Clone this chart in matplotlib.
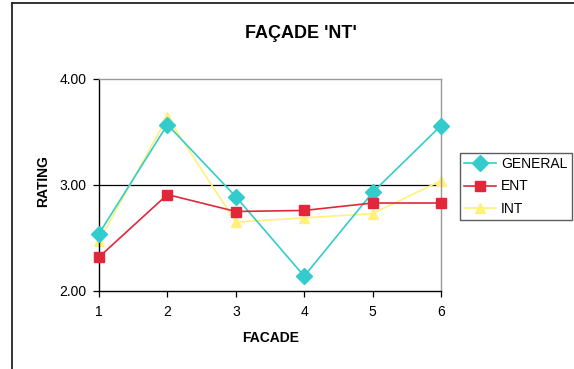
import matplotlib
matplotlib.use("Agg")
import matplotlib.pyplot as plt
from matplotlib.lines import Line2D

plt.rcParams['font.family'] = ['Liberation Sans', 'DejaVu Sans']

facades = [1, 2, 3, 4, 5, 6]
general = [2.54, 3.57, 2.89, 2.14, 2.93, 3.56]
ent = [2.32, 2.91, 2.75, 2.76, 2.83, 2.83]
int_vals = [2.47, 3.64, 2.65, 2.69, 2.73, 3.04]
y_ticks = [2.0, 3.0, 4.0]

W, H = 574, 369
fig = plt.figure(figsize=(W / 100, H / 100), dpi=100)
fig.patch.set_facecolor('white')

# outer chart frame (top and left edges)
fig.add_artist(Line2D([12 / W, 1.0], [1 - 3 / H, 1 - 3 / H],
                      transform=fig.transFigure, color='#222222', lw=1.3))
fig.add_artist(Line2D([12 / W, 12 / W], [0.0, 1 - 3 / H],
                      transform=fig.transFigure, color='#222222', lw=1.3))

ax = fig.add_axes([99 / W, 1 - 291 / H, (441 - 99) / W, (291 - 79) / H])

ax.plot(facades, general, color='#33CCCC', lw=1.2, marker='D', ms=8.5,
        label='GENERAL', zorder=3, clip_on=False)
ax.plot(facades, ent, color='#E0283A', lw=1.2, marker='s', ms=6.5,
        label='ENT', zorder=4, clip_on=False)
ax.plot(facades, int_vals, color='#FFF17A', lw=1.2, marker='^', ms=7.5,
        label='INT', zorder=2, clip_on=False)

ax.set_xlim(1, 6)
ax.set_ylim(2, 4)
ax.set_xticks(facades)
ax.set_yticks(y_ticks)
ax.set_yticklabels([f'{v:.2f}' for v in y_ticks])
ax.axhline(3.0, color='black', lw=0.9, zorder=1)

for side in ('top', 'right'):
    ax.spines[side].set_color('#999999')
    ax.spines[side].set_linewidth(1.0)
for side in ('left', 'bottom'):
    ax.spines[side].set_color('black')
    ax.spines[side].set_linewidth(1.0)

ax.tick_params(axis='both', direction='out', length=4, width=0.9,
               labelsize=10, colors='black')
ax.tick_params(axis='x', pad=6)
ax.tick_params(axis='y', pad=5)

ax.set_xlabel('FACADE', fontsize=10, fontweight='bold', va='center')
ax.xaxis.set_label_coords((271 - 99) / 342, (291 - 338) / 212)
ax.set_ylabel('RATING', fontsize=10, fontweight='bold', va='center')
ax.yaxis.set_label_coords((43 - 99) / 342, (291 - 181) / 212)

fig.text(301 / W, 1 - 33 / H, "FAÇADE 'NT'", ha='center', va='center',
         fontsize=13, fontweight='bold')

leg = ax.legend(loc='upper left', bbox_to_anchor=(460 / W, 1 - 153 / H),
                bbox_transform=fig.transFigure, fontsize=10, frameon=True,
                fancybox=False, edgecolor='#333333', handlelength=2.3,
                handletextpad=0.36, borderpad=0.3, labelspacing=0.6,
                borderaxespad=0)
leg.get_frame().set_linewidth(1.0)

fig.savefig('out.png', dpi=100, facecolor='white')
